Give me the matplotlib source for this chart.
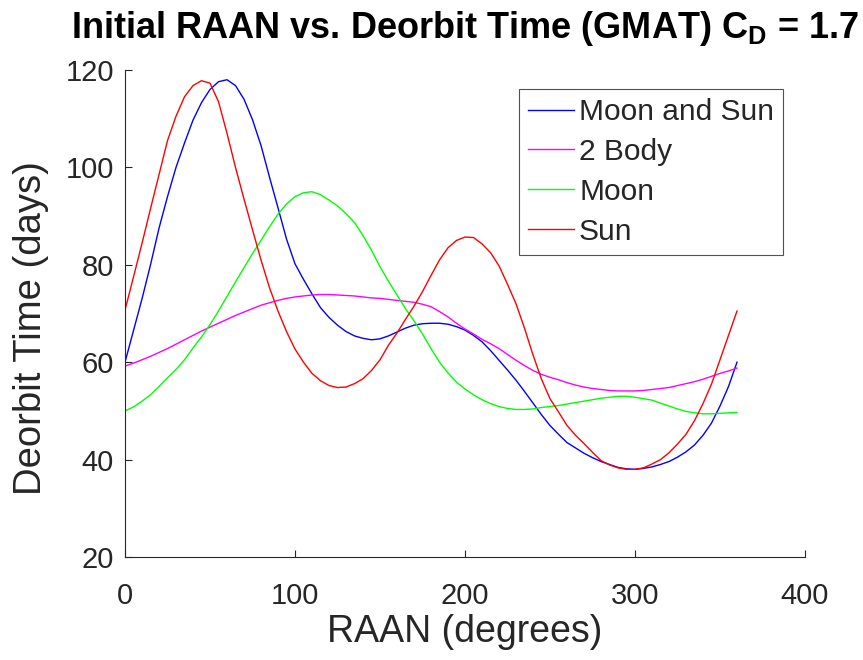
import matplotlib
matplotlib.use("Agg")
import matplotlib.pyplot as plt

# Initial RAAN (degrees), sampled every 5 degrees
raan = list(range(0, 361, 5))

# Deorbit time (days) for each perturbation model
moon_and_sun = [60, 66.5, 73, 80, 87.5, 94, 100, 105, 109.7, 113.3, 116, 117.6, 118, 116.8,
                114, 109.8, 104.5, 98, 91.7, 85.3, 80.2, 77, 74, 71.2, 69.2, 67.6, 66.3, 65.4,
                64.9, 64.6, 64.8, 65.4, 66.2, 67, 67.6, 67.9, 68, 68, 67.8, 67.3, 66.6, 65.5,
                64.2, 62.4, 60.4, 58.4, 56.3, 54, 51.6, 49.2, 47, 45.2, 43.5, 42.4, 41.3, 40.4,
                39.6, 39, 38.4, 38.1, 38, 38.2, 38.5, 39, 39.6, 40.5, 41.6, 43, 45, 47.5, 51,
                55, 60]
two_body = [59.2, 59.8, 60.5, 61.2, 62, 62.8, 63.7, 64.6, 65.5, 66.4, 67.2, 68, 68.8, 69.6,
            70.3, 71, 71.7, 72.2, 72.7, 73.1, 73.4, 73.6, 73.8, 73.9, 73.9, 73.8, 73.7, 73.6,
            73.4, 73.2, 73.1, 72.9, 72.7, 72.5, 72.3, 71.9, 71.4, 70.4, 69.3, 68.0, 66.8,
            65.8, 64.7, 63.8, 62.8, 61.6, 60.4, 59.3, 58.3, 57.5, 56.9, 56.4, 55.8, 55.3,
            54.9, 54.6, 54.4, 54.2, 54.1, 54.1, 54.1, 54.2, 54.4, 54.6, 54.8, 55.2, 55.6,
            56, 56.5, 57.1, 57.7, 58.2, 58.8]
moon = [50, 50.8, 52, 53.3, 55, 56.8, 58.5, 60.5, 62.9, 65.2, 67.7, 70.5, 73.5, 76.5, 79.4,
        82.3, 85, 87.8, 90.4, 92.5, 94, 94.8, 95, 94.4, 93.3, 92.1, 90.5, 88.7, 86, 83,
        79.6, 76.6, 73.8, 71, 68.5, 65.8, 62.8, 60, 57.8, 55.9, 54.5, 53.3, 52.3, 51.5,
        50.9, 50.5, 50.3, 50.3, 50.4, 50.7, 50.9, 51.1, 51.4, 51.7, 52, 52.3, 52.6, 52.8,
        53, 53, 52.8, 52.5, 52.2, 51.6, 51, 50.4, 49.9, 49.6, 49.4, 49.4, 49.5, 49.6, 49.7]
sun = [70.7, 77.5, 84.4, 91.5, 98.5, 105.5, 110.5, 114.5, 116.8, 117.8, 117.3, 113.5, 107,
       100, 93.5, 87.2, 81, 75.3, 70.5, 66.3, 62.7, 60, 57.7, 56.2, 55.2, 54.8, 54.9, 55.6,
       56.6, 58.3, 60.5, 63.5, 66, 68.8, 71.5, 74.5, 77.8, 81, 83.5, 85, 85.7, 85.6, 84.3,
       82.5, 79.8, 76, 72, 67, 61.5, 56.5, 52.5, 49.8, 47, 45, 43.3, 41.5, 39.8, 38.9,
       38.3, 38, 38, 38.3, 39.1, 40, 41.4, 43.2, 45.2, 48, 51.5, 55.5, 60.5, 65.5, 70.5]

series_names = ["Moon and Sun", "2 Body", "Moon", "Sun"]
series_values = [moon_and_sun, two_body, moon, sun]
series_colors = ["#0000ff", "#ff00ff", "#00ff00", "#ff0000"]

x_ticks = [0, 100, 200, 300, 400]
y_ticks = [20, 40, 60, 80, 100, 120]

plt.rcParams["font.family"] = ["Liberation Sans", "DejaVu Sans"]
plt.rcParams["mathtext.fontset"] = "custom"
plt.rcParams["mathtext.rm"] = "Liberation Sans:bold"
plt.rcParams["mathtext.it"] = "Liberation Sans:bold"
plt.rcParams["mathtext.bf"] = "Liberation Sans:bold"

dark = "#262626"

fig = plt.figure(figsize=(8.63, 6.60), dpi=100)
ax = fig.add_axes([125 / 863, 1 - 557 / 660, 680 / 863, 487 / 660])

for name, vals, col in zip(series_names, series_values, series_colors):
    ax.plot(raan, vals, color=col, lw=1.0, label=name)

ax.set_xlim(0, 400)
ax.set_ylim(20, 120)
ax.set_xticks(x_ticks)
ax.set_yticks(y_ticks)

for side in ("top", "right"):
    ax.spines[side].set_visible(False)
for side in ("left", "bottom"):
    ax.spines[side].set_color(dark)
    ax.spines[side].set_linewidth(0.8)

ax.tick_params(direction="in", length=5, width=0.8, colors=dark, labelsize=21)
ax.tick_params(axis="x", pad=18)
ax.tick_params(axis="y", pad=8)

ax.set_xlabel("RAAN (degrees)", fontsize=27, color=dark, labelpad=3)
ax.set_ylabel("Deorbit Time (days)", fontsize=27.5, color=dark, labelpad=9)
ax.yaxis.set_label_coords(-0.112, 0.47)
ax.set_title(r"Initial RAAN vs. Deorbit Time (GMAT) C$_\mathrm{D}$ = 1.7",
             fontsize=26, fontweight="bold", color="black", pad=23)

leg = ax.legend(loc="upper right", bbox_to_anchor=((783 - 125) / 680, (557 - 89) / 487),
                borderaxespad=0, fontsize=21.5, frameon=True, fancybox=False,
                handlelength=1.55, handletextpad=0.17, labelspacing=0.4,
                borderpad=0.3)
leg.get_frame().set_edgecolor(dark)
leg.get_frame().set_linewidth(0.8)
for t in leg.get_texts():
    t.set_color(dark)

fig.savefig("out.png", dpi=100)
